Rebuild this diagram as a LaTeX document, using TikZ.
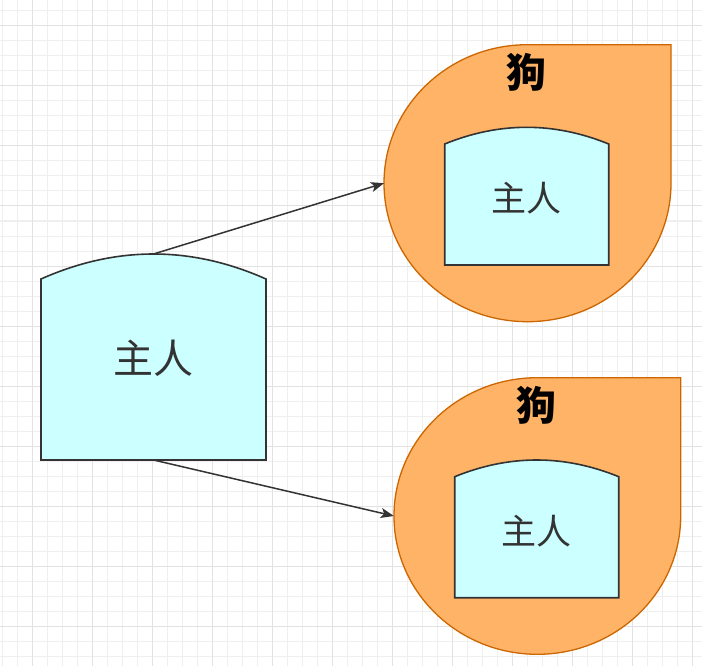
\documentclass[tikz,border=0pt]{standalone}
\usepackage{fontspec}
\newfontfamily\cjk{Noto Sans CJK SC}
\usetikzlibrary{arrows.meta}
\definecolor{gridminor}{HTML}{EFEFEF}
\definecolor{gridmajor}{HTML}{E2E2E2}
\definecolor{ownerfill}{HTML}{CCFFFF}
\definecolor{ownerline}{HTML}{333333}
\definecolor{dogfill}{HTML}{FFB366}
\definecolor{dogline}{HTML}{CC6600}
\definecolor{txt}{HTML}{333333}
\tikzset{
  frame/.style={draw=none, fill=none, inner sep=0pt, outer sep=0pt},
  ownershape/.style={draw=ownerline, fill=ownerfill, line width=1.6pt, line join=miter},
  dogshape/.style={draw=dogline, fill=dogfill, line width=1.3pt},
  ownerbig/.style={text=txt, font=\cjk\fontsize{40}{44}\selectfont, inner sep=0pt},
  ownersmall/.style={text=txt, font=\cjk\fontsize{35}{40}\selectfont, inner sep=0pt},
  doglabel/.style={text=black, font=\cjk\bfseries\fontsize{40}{44}\selectfont, inner sep=0pt},
  arr/.style={draw=txt, line width=1.5pt, -{Stealth[length=13pt,width=10pt,inset=3pt]}},
}
\newcommand\teardropshape[4]{% L T R B
  \pgfmathsetmacro\tdcx{(#1+#3)/2}
  \pgfmathsetmacro\tdcy{(#2+#4)/2}
  \pgfmathsetmacro\tdrx{(#3-#1)/2*0.5523}
  \pgfmathsetmacro\tdry{(#4-#2)/2*0.5523}
  \draw[dogshape] (#3,\tdcy) .. controls (#3,\tdcy+\tdry) and (\tdcx+\tdrx,#4) .. (\tdcx,#4)
    .. controls (\tdcx-\tdrx,#4) and (#1,\tdcy+\tdry) .. (#1,\tdcy)
    .. controls (#1,\tdcy-\tdry) and (\tdcx-\tdrx,#2) .. (\tdcx,#2)
    -- (#3,#2) -- cycle;
}
\newcommand\ownershapedraw[5]{% L Tcorner R B peak
  \pgfmathsetmacro\obsag{#2-#5}
  \pgfmathsetmacro\obw{(#3-#1)/3}
  \draw[ownershape] (#1,#4) -- (#1,#2)
    .. controls (#1+\obw,#2-4/3*\obsag) and (#3-\obw,#2-4/3*\obsag) .. (#3,#2)
    -- (#3,#4) -- cycle;
}
\begin{document}
\begin{tikzpicture}[x=1pt,y=-1pt]
\useasboundingbox (0,0) rectangle (702,666);
\fill[white] (0,0) rectangle (702,666);
% grid
\foreach \gx in {2,17,...,702} \draw[gridminor, line width=1pt] (\gx,0) -- (\gx,666);
\foreach \gy in {11,26,...,666} \draw[gridminor, line width=1pt] (0,\gy) -- (702,\gy);
\foreach \gx in {32,92,...,702} \draw[gridmajor, line width=1pt] (\gx,0) -- (\gx,666);
\foreach \gy in {26,86,...,666} \draw[gridmajor, line width=1pt] (0,\gy) -- (702,\gy);

% frames for connectors
\node[frame, minimum width=225pt, minimum height=206pt] (owner) at (153.5,357) {};
\node[frame, minimum width=287pt, minimum height=277pt] (dog1) at (527.5,183.2) {};
\node[frame, minimum width=287pt, minimum height=277pt] (dog2) at (537.35,516) {};

% left owner
\ownershapedraw{41}{279}{266}{460}{254}
\node[ownerbig] (ownerlabel) at (153.5,358) {主人};

% top dog
\teardropshape{384}{44.7}{671}{321.7}
\ownershapedraw{444.7}{144}{608.7}{265}{127.3}
\node[doglabel] (dog1label) at (526.5,72.5) {狗};
\node[ownersmall] (owner1label) at (526.7,198) {主人};

% bottom dog
\teardropshape{394}{377.7}{680.7}{654.3}
\ownershapedraw{454.7}{476.7}{618.7}{597.7}{460}
\node[doglabel] (dog2label) at (536.5,405.5) {狗};
\node[ownersmall] (owner2label) at (536.7,531) {主人};

% connectors
\draw[arr] (owner.north) -- (dog1.west);
\draw[arr] (owner.south) -- (dog2.west);
\end{tikzpicture}
\end{document}
